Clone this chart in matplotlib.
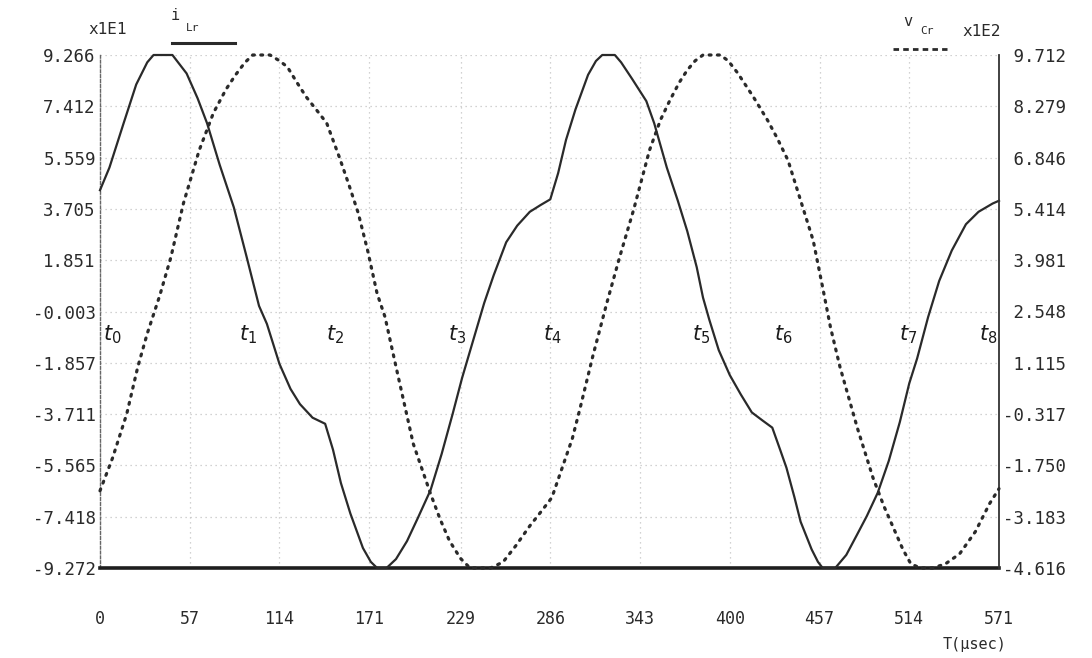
import numpy as np
import matplotlib.pyplot as plt
from matplotlib.lines import Line2D

plt.rcParams['font.family'] = ['DejaVu Sans Mono', 'DejaVu Sans']

# inductor current i_Lr, plotted in units of x1E1 (solid trace)
i_t = [0, 6, 15, 23, 30, 34, 46, 55, 62, 68,
       76, 85, 93, 101, 106, 114, 121, 127, 135, 143,
       148, 153, 159, 167, 172, 176, 182, 188, 195, 202,
       210, 217, 224, 230, 237, 244, 250, 258, 265, 273,
       280, 286, 291, 296, 302, 310, 315, 319, 327, 331,
       338, 347, 352, 360, 367, 373, 379, 383, 387, 393,
       400, 407, 414, 421, 427, 432, 436, 441, 445, 452,
       456, 459, 467, 474, 481, 487, 494, 501, 508, 514,
       519, 526, 533, 541, 550, 558, 567, 571]
i_val = [4.38, 5.2, 6.8, 8.2, 9.0, 9.266, 9.266, 8.6, 7.7, 6.8,
         5.3, 3.76, 2.0, 0.2, -0.45, -1.9, -2.8, -3.35, -3.84, -4.06,
         -5.0, -6.2, -7.3, -8.55, -9.05, -9.272, -9.272, -8.95, -8.3, -7.45,
         -6.45, -5.15, -3.7, -2.4, -1.05, 0.3, 1.3, 2.5, 3.1, 3.6,
         3.85, 4.05, 5.0, 6.2, 7.3, 8.55, 9.05, 9.266, 9.266, 9.0,
         8.4, 7.6, 6.8, 5.2, 4.0, 2.9, 1.6, 0.5, -0.3, -1.4,
         -2.3, -3.0, -3.65, -3.95, -4.2, -5.0, -5.65, -6.7, -7.6, -8.6,
         -9.05, -9.272, -9.272, -8.8, -8.05, -7.4, -6.55, -5.4, -4.0, -2.6,
         -1.7, -0.2, 1.1, 2.2, 3.15, 3.6, 3.9, 4.0]

# capacitor voltage v_Cr, plotted in units of x1E2 (dotted trace)
v_t = [0, 8, 17, 24, 30, 38, 45, 53, 63, 72,
       80, 86, 92, 97, 108, 114, 119, 125, 131, 138,
       144, 152, 158, 164, 170, 176, 181, 189, 199, 210,
       216, 222, 229, 235, 248, 256, 264, 273, 280, 287,
       294, 300, 305, 313, 322, 330, 339, 349, 356, 362,
       368, 373, 378, 383, 394, 399, 405, 415, 424, 430,
       437, 445, 453, 459, 464, 470, 481, 491, 498, 504,
       510, 515, 521, 529, 537, 546, 556, 565, 571]
v_val = [-2.46, -1.54, -0.31, 1.0, 1.93, 3.0, 4.06, 5.57, 7.05, 8.09,
         8.75, 9.15, 9.5, 9.712, 9.712, 9.55, 9.38, 8.95, 8.54, 8.15,
         7.81, 6.86, 6.1, 5.3, 4.25, 3.05, 2.4, 0.81, -1.15, -2.55,
         -3.25, -3.86, -4.35, -4.616, -4.616, -4.45, -4.0, -3.44, -3.05, -2.65,
         -1.76, -1.0, -0.14, 1.3, 2.8, 4.06, 5.4, 7.05, 7.9, 8.45,
         8.95, 9.29, 9.55, 9.712, 9.712, 9.55, 9.21, 8.54, 7.89, 7.4,
         6.77, 5.65, 4.53, 3.22, 2.1, 1.0, -0.70, -2.10, -2.9, -3.50,
         -4.1, -4.5, -4.616, -4.616, -4.5, -4.22, -3.6, -2.82, -2.4]

x_ticks = [0, 57, 114, 171, 229, 286, 343, 400, 457, 514, 571]
i_ticks = [9.266, 7.412, 5.559, 3.705, 1.851, -0.003, -1.857, -3.711,
           -5.565, -7.418, -9.272]
v_ticks = [9.712, 8.279, 6.846, 5.414, 3.981, 2.548, 1.115, -0.317,
           -1.750, -3.183, -4.616]

# switching instants t0..t8
t_marks = ['$t_0$', '$t_1$', '$t_2$', '$t_3$', '$t_4$', '$t_5$', '$t_6$', '$t_7$', '$t_8$']
t_pos = [8, 94, 149, 227, 287, 382, 434, 513, 564]

W, H = 1092, 658
fig = plt.figure(figsize=(W / 100, H / 100), dpi=100)
ax = fig.add_axes([100 / W, 90 / H, 899 / W, 513 / H])
ax2 = ax.twinx()

ink = '#2a2a2a'
ax.plot(i_t, i_val, color=ink, lw=1.6, clip_on=False, zorder=3)
ax2.plot(v_t, v_val, color=ink, lw=2.3, linestyle=(0, (0.6, 2.0)),
         dash_capstyle='round', clip_on=False, zorder=3)

ax.set_xlim(0, 571)
ax.set_ylim(-9.272, 9.266)
ax2.set_ylim(-4.616, 9.712)

ax.set_xticks(x_ticks)
ax.set_xticklabels([str(x) for x in x_ticks])
ax.set_yticks(i_ticks)
ax.set_yticklabels([f'{y:.3f}' for y in i_ticks])
ax2.set_yticks(v_ticks)
ax2.set_yticklabels([f'{y:6.3f}' for y in v_ticks])

ax.tick_params(axis='x', length=0, pad=30, labelsize=12, colors=ink)
ax.tick_params(axis='y', length=0, pad=3, labelsize=12.5, colors=ink)
ax2.tick_params(axis='y', length=0, pad=3, labelsize=12.5, colors=ink)

ax.grid(True, color='#c4c4c4', linestyle=(0, (1, 3)), lw=0.9)

for s in ['top', 'right']:
    ax.spines[s].set_visible(False)
for s in ['top', 'left', 'bottom']:
    ax2.spines[s].set_visible(False)
ax.spines['bottom'].set_linewidth(2.6)
ax.spines['bottom'].set_color('#1e1e1e')
ax.spines['left'].set_linestyle((0, (2, 1.5)))
ax.spines['left'].set_color('#666666')
ax.spines['left'].set_linewidth(1.0)
ax2.spines['right'].set_linewidth(1.3)
ax2.spines['right'].set_color('#333333')

for lab, t in zip(t_marks, t_pos):
    ax.text(t, -0.85, lab, fontsize=15, color='#1a1a1a', ha='center', va='center',
            zorder=4)

# scale factors and legend keys above the plot
def fx(px):
    return px / W

def fy(py):
    return 1 - py / H

fig.text(fx(88), fy(30), 'x1E1', fontsize=11.5, color=ink, ha='left', va='center')
fig.text(fx(175), fy(16), 'i', fontsize=11, color=ink, ha='center', va='center')
fig.text(fx(186), fy(28), 'Lr', fontsize=8, color=ink, ha='left', va='center')
fig.add_artist(Line2D([fx(172), fx(235)], [fy(43), fy(43)], color=ink, lw=2.2))

fig.text(fx(908), fy(22), 'v', fontsize=11, color=ink, ha='center', va='center')
fig.text(fx(920), fy(31), 'Cr', fontsize=8, color=ink, ha='left', va='center')
fig.text(fx(962), fy(32), 'x1E2', fontsize=11.5, color=ink, ha='left', va='center')
fig.add_artist(Line2D([fx(893), fx(947)], [fy(49), fy(49)], color=ink, lw=2.0,
                      linestyle=(0, (2, 1.5))))

fig.text(fx(975), fy(645), 'T(µsec)', fontsize=11, color=ink, ha='center', va='center')

fig.savefig('out.png', dpi=100, facecolor='white')
